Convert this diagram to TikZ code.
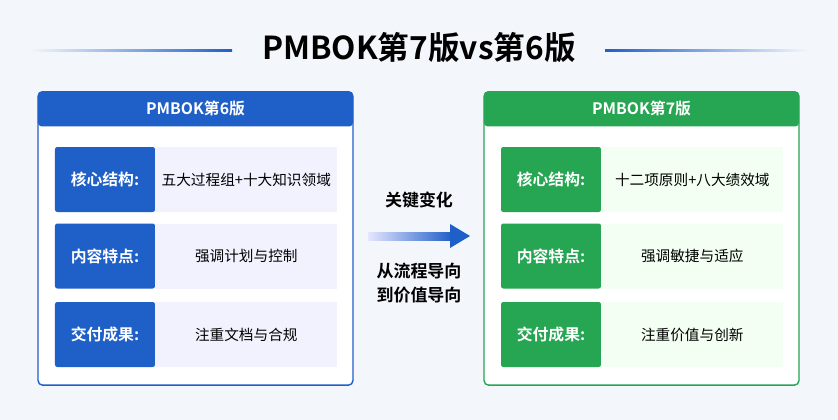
\documentclass[tikz,border=0pt]{standalone}
\usepackage{fontspec}
\newfontfamily\cjk{Noto Sans CJK SC}
\newfontfamily\cjkb{Noto Sans CJK SC Bold}
\usetikzlibrary{positioning}
\definecolor{pmblue}{HTML}{1F5FC8}
\definecolor{pmgreen}{HTML}{26A552}
\definecolor{bg}{HTML}{F3F7FC}
\tikzset{
  panel/.style={draw=#1, line width=1.2pt, rounded corners=4pt, fill=white, minimum width=9.45cm, minimum height=8.8cm},
  head/.style={fill=#1, rounded corners=3pt, minimum width=9.45cm, minimum height=1.05cm, text=white, font=\cjkb\fontsize{13.5}{13.5}\selectfont},
  lab/.style={fill=#1, rounded corners=2pt, minimum width=3cm, minimum height=1.95cm, text=white, font=\cjkb\fontsize{13.5}{13.5}\selectfont},
  cont/.style={fill=#1, minimum width=5.45cm, minimum height=1.95cm, font=\cjk\fontsize{12.5}{12.5}\selectfont},
  mid/.style={font=\cjkb\fontsize{14.5}{14.5}\selectfont}
}
\begin{document}
\begin{tikzpicture}[x=0.03cm,y=-0.03cm]
\fill[bg] (0,0) rectangle (838,420);
\useasboundingbox (0,0) rectangle (838,420);

% Titel
\node[font=\cjkb\fontsize{27}{27}\selectfont] (title) at (419,48) {PMBOK第7版vs第6版};
\shade[left color=bg, right color=pmblue] (30,49) rectangle (232,51);
\shade[left color=pmblue, right color=bg] (605,49) rectangle (808,51);

% Links: 6. Auflage
\node[panel=pmblue] (P6) at (195.5,238.5) {};
\node[head=pmblue, anchor=north] (H6) at (P6.north) {PMBOK第6版};
\node[lab=pmblue] (L61) at (105,179.5) {核心结构:};
\node[lab=pmblue] (L62) at (105,256) {内容特点:};
\node[lab=pmblue] (L63) at (105,334.5) {交付成果:};
\node[cont=blue!5, right=0pt of L61] (C61) {五大过程组+十大知识领域};
\node[cont=blue!5, right=0pt of L62] (C62) {强调计划与控制};
\node[cont=blue!5, right=0pt of L63] (C63) {注重文档与合规};

% Rechts: 7. Auflage
\node[panel=pmgreen] (P7) at (641.5,238.5) {};
\node[head=pmgreen, anchor=north] (H7) at (P7.north) {PMBOK第7版};
\node[lab=pmgreen] (L71) at (551,179.5) {核心结构:};
\node[lab=pmgreen] (L72) at (551,256) {内容特点:};
\node[lab=pmgreen] (L73) at (551,334.5) {交付成果:};
\node[cont=green!5, right=0pt of L71] (C71) {十二项原则+八大绩效域};
\node[cont=green!5, right=0pt of L72] (C72) {强调敏捷与适应};
\node[cont=green!5, right=0pt of L73] (C73) {注重价值与创新};

% Mitte
\node[mid] (chg) at (419,200) {关键变化};
\coordinate (a0) at (368,236);
\coordinate (a1) at (470,236);
\shade[left color=blue!10, right color=pmblue] (368,232) rectangle (452,240);
\fill[pmblue] (450,224) -- (a1) -- (450,248) -- cycle;
\node[mid] (m1) at (419,271) {从流程导向};
\node[mid, below=0pt of m1] (m2) {到价值导向};
\end{tikzpicture}
\end{document}
